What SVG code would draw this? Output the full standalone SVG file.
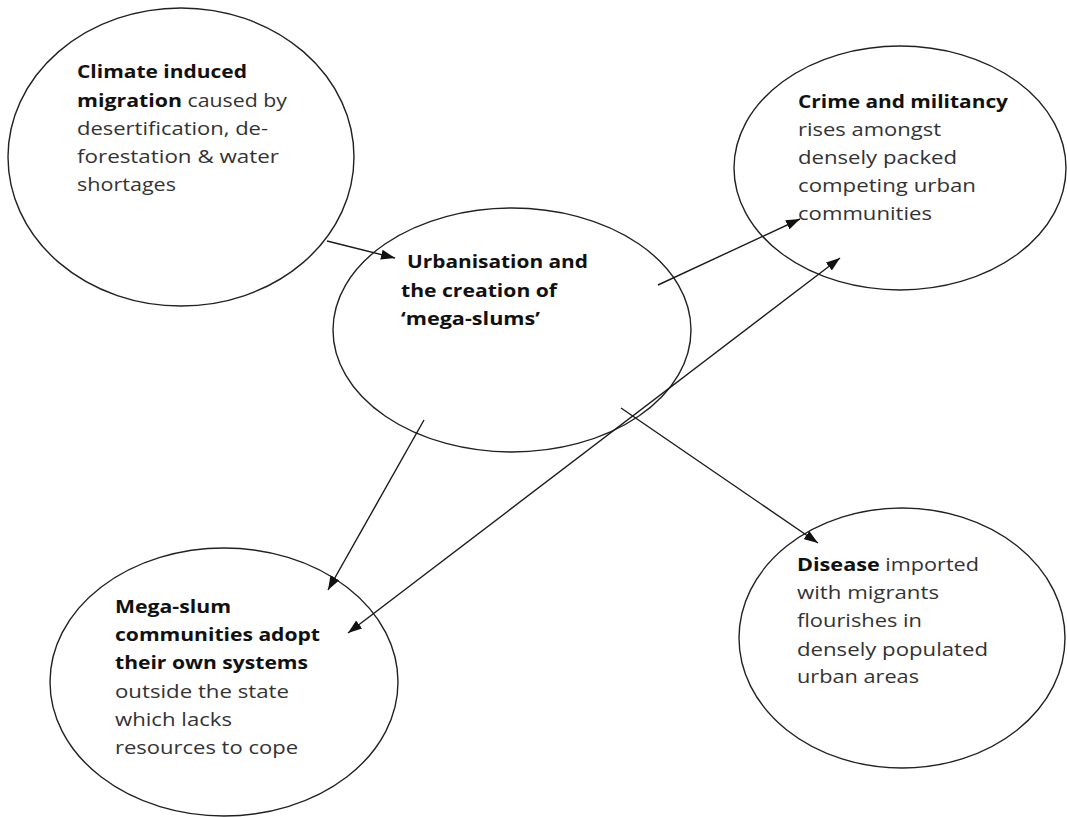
<svg xmlns="http://www.w3.org/2000/svg" width="1067" height="817" viewBox="0 0 1067 817">
<style>
.node ellipse{fill:none;stroke:#222;stroke-width:1.4}
.t{font-family:"Open Sans","Liberation Sans",sans-serif;font-size:18.5px;fill:#333}
.b{font-weight:bold;fill:#111}
.conn line{stroke:#1a1a1a;stroke-width:1.4}
</style>
<defs>
<marker id="ah" viewBox="0 0 14 10" refX="14" refY="5" markerWidth="14" markerHeight="10" markerUnits="userSpaceOnUse" orient="auto-start-reverse">
<path d="M0,0 L14,5 L0,10 z" fill="#111"/>
</marker>
</defs>
<rect width="1067" height="817" fill="#fff"/>
<g id="node-climate" class="node">
<ellipse cx="181" cy="157" rx="173" ry="149"/>
<text class="t" x="77" y="78" textLength="170" lengthAdjust="spacingAndGlyphs"><tspan class="b">Climate induced</tspan></text>
<text class="t" x="77" y="106.5" textLength="210" lengthAdjust="spacingAndGlyphs"><tspan class="b">migration</tspan> caused by</text>
<text class="t" x="77" y="135" textLength="191" lengthAdjust="spacingAndGlyphs">desertification, de-</text>
<text class="t" x="77" y="163" textLength="202" lengthAdjust="spacingAndGlyphs">forestation &amp; water</text>
<text class="t" x="77" y="191" textLength="99" lengthAdjust="spacingAndGlyphs">shortages</text>
</g>
<g id="node-urban" class="node">
<ellipse cx="512" cy="330" rx="179" ry="122"/>
<text class="t b" x="407" y="268" textLength="181" lengthAdjust="spacingAndGlyphs">Urbanisation and</text>
<text class="t b" x="401" y="296.5" textLength="156" lengthAdjust="spacingAndGlyphs">the creation of</text>
<text class="t b" x="401" y="325" textLength="139" lengthAdjust="spacingAndGlyphs">‘mega-slums’</text>
</g>
<g id="node-crime" class="node">
<ellipse cx="900" cy="168" rx="166" ry="122"/>
<text class="t b" x="798" y="108" textLength="210" lengthAdjust="spacingAndGlyphs">Crime and militancy</text>
<text class="t" x="798" y="136" textLength="143" lengthAdjust="spacingAndGlyphs">rises amongst</text>
<text class="t" x="798" y="164" textLength="159" lengthAdjust="spacingAndGlyphs">densely packed</text>
<text class="t" x="798" y="192" textLength="178" lengthAdjust="spacingAndGlyphs">competing urban</text>
<text class="t" x="798" y="220" textLength="134" lengthAdjust="spacingAndGlyphs">communities</text>
</g>
<g id="node-megaslum" class="node">
<ellipse cx="224" cy="682" rx="174" ry="134"/>
<text class="t b" x="115" y="613" textLength="116" lengthAdjust="spacingAndGlyphs">Mega-slum</text>
<text class="t b" x="115" y="641" textLength="205" lengthAdjust="spacingAndGlyphs">communities adopt</text>
<text class="t b" x="115" y="669" textLength="193" lengthAdjust="spacingAndGlyphs">their own systems</text>
<text class="t" x="115" y="698" textLength="174" lengthAdjust="spacingAndGlyphs">outside the state</text>
<text class="t" x="115" y="726" textLength="117" lengthAdjust="spacingAndGlyphs">which lacks</text>
<text class="t" x="115" y="754" textLength="183" lengthAdjust="spacingAndGlyphs">resources to cope</text>
</g>
<g id="node-disease" class="node">
<ellipse cx="902" cy="638" rx="163" ry="130"/>
<text class="t" x="797" y="571" textLength="182" lengthAdjust="spacingAndGlyphs"><tspan class="b">Disease</tspan> imported</text>
<text class="t" x="797" y="599" textLength="142" lengthAdjust="spacingAndGlyphs">with migrants</text>
<text class="t" x="797" y="627" textLength="125" lengthAdjust="spacingAndGlyphs">flourishes in</text>
<text class="t" x="797" y="656" textLength="191" lengthAdjust="spacingAndGlyphs">densely populated</text>
<text class="t" x="797" y="683" textLength="122" lengthAdjust="spacingAndGlyphs">urban areas</text>
</g>
<g id="connectors" class="conn">
<line x1="327" y1="241" x2="395" y2="258" marker-end="url(#ah)"/>
<line x1="658" y1="285" x2="800" y2="219" marker-end="url(#ah)"/>
<line x1="348" y1="633" x2="840" y2="258" marker-start="url(#ah)" marker-end="url(#ah)"/>
<line x1="424" y1="420" x2="328" y2="590" marker-end="url(#ah)"/>
<line x1="621" y1="408" x2="818" y2="543" marker-end="url(#ah)"/>
</g>
</svg>
